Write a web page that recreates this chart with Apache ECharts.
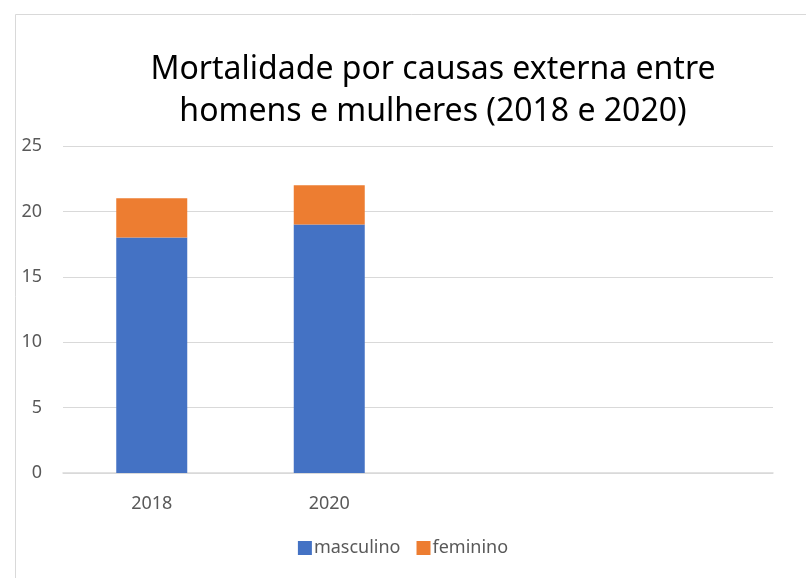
<!DOCTYPE html>
<html>
<head>
<meta charset="utf-8">
<script src="https://cdn.jsdelivr.net/npm/echarts@6/dist/echarts.min.js"></script>
<style>
  html, body { margin: 0; padding: 0; background: #fff; }
  #chart { width: 806px; height: 578px; }
</style>
</head>
<body>
<div id="chart"></div>
<script>
// dados
const categories = ['2018', '2020', '', ''];
const masculino = [18, 19, null, null];
const feminino = [3, 3, null, null];
const yTicks = [0, 5, 10, 15, 20, 25];

const chart = echarts.init(document.getElementById('chart'));
const font = 'Noto Sans';

const option = {
  backgroundColor: '#ffffff',
  animation: false,
  graphic: [
    {
      type: 'rect',
      left: 13, top: 12,
      shape: { width: 820, height: 600 },
      style: { fill: 'none', stroke: '#d9d9d9', lineWidth: 1 },
      silent: true
    }
  ],
  title: {
    text: 'Mortalidade por causas externa entre\nhomens e mulheres (2018 e 2020)',
    left: 428, top: 44, textAlign: 'center',
    textStyle: { fontFamily: font, fontSize: 32, fontWeight: 'normal', color: '#000000', lineHeight: 42 }
  },
  legend: {
    data: ['masculino', 'feminino'],
    bottom: 16, left: 'center',
    itemWidth: 14, itemHeight: 14, itemGap: 16,
    icon: 'rect',
    textStyle: { fontFamily: font, fontSize: 18, color: '#595959', padding: [0, 0, 0, -3] }
  },
  grid: { left: 63, right: 33, top: 146, bottom: 105 },
  xAxis: {
    type: 'category',
    data: categories,
    axisLine: { lineStyle: { color: '#d9d9d9', width: 1.5 } },
    axisTick: { show: false },
    axisLabel: { fontFamily: font, fontSize: 18, color: '#595959', margin: 22 }
  },
  yAxis: {
    type: 'value',
    min: 0, max: 25, interval: 5,
    axisLine: { show: false },
    axisTick: { show: false },
    splitLine: { lineStyle: { color: '#d9d9d9', width: 1 } },
    axisLabel: {
      fontFamily: font, fontSize: 18, color: '#595959', margin: 21,
      formatter: v => yTicks.includes(v) ? String(v) : ''
    }
  },
  series: [
    {
      name: 'masculino', type: 'bar', stack: 'total',
      data: masculino, barWidth: '40%',
      itemStyle: { color: '#4472c4' }
    },
    {
      name: 'feminino', type: 'bar', stack: 'total',
      data: feminino, barWidth: '40%',
      itemStyle: { color: '#ed7d31' }
    }
  ]
};

chart.setOption(option);
</script>
</body>
</html>
